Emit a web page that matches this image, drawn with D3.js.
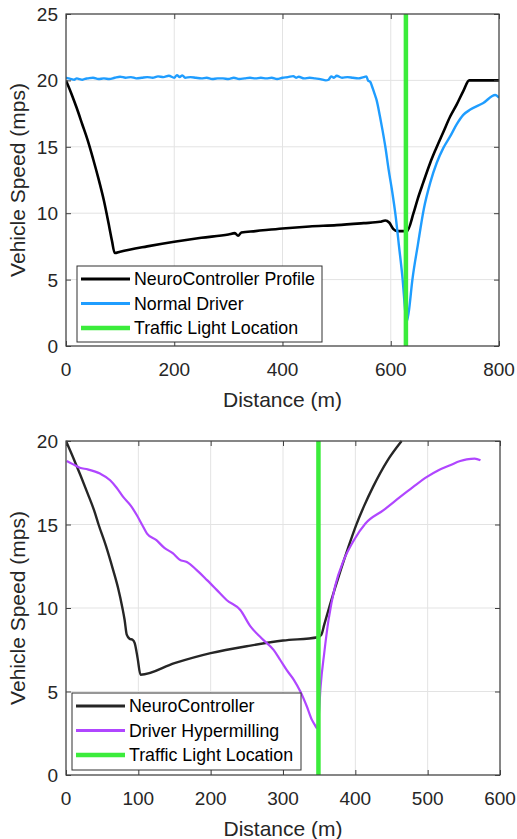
<!DOCTYPE html>
<html lang="en">
<head>
<meta charset="UTF-8">
<title>Vehicle Speed vs Distance</title>
<script src="https://d3js.org/d3.v7.min.js"></script>
<style>
    body { margin: 0; background: #fff; }
    svg { font-family: "Liberation Sans", Arial, sans-serif; }
    .grid line { stroke: #e3e3e3; stroke-width: 1; }
    .tick-lbl { font-size: 19px; fill: #262626; }
    .ax-lbl { font-size: 21px; fill: #262626; }
    .leg-txt { font-size: 17.8px; fill: #000; }
</style>
</head>
<body>
<svg width="517" height="839"></svg>
<script>
    // ---- top panel: NeuroController vs normal driver ----
    const topXTicks = [0, 200, 400, 600, 800];
    const topYTicks = [0, 5, 10, 15, 20, 25];
    const topLight = 628;

    const ncTopX = [0, 10, 20, 30, 40, 50, 60, 70, 80, 85, 90, 100, 150, 200, 250, 300, 312, 318, 324, 350, 400, 450, 500, 550, 580, 590, 597, 605, 612, 630, 642, 650, 660, 673, 683, 697, 710, 722, 734, 745, 800];
    const ncTopY = [20, 19, 17.9, 16.7, 15.5, 14.1, 12.6, 10.95, 8.95, 7.9, 7, 7.1, 7.5, 7.85, 8.15, 8.4, 8.5, 8.3, 8.55, 8.65, 8.85, 9.0, 9.1, 9.25, 9.35, 9.45, 9.3, 8.8, 8.65, 8.65, 10, 11.1, 12.3, 13.8, 14.8, 16.1, 17.3, 18.2, 19.2, 20, 20];

    const driverX = [0, 5, 10, 15, 20, 25, 30, 35, 40, 50, 60, 70, 80, 90, 100, 110, 120, 130, 140, 150, 160, 170, 180, 190, 200, 205, 210, 215, 220, 230, 240, 250, 260, 270, 280, 290, 300, 310, 320, 330, 340, 350, 360, 370, 380, 390, 400, 410, 420, 425, 430, 440, 450, 460, 470, 480, 485, 490, 495, 500, 510, 520, 530, 540, 550, 555, 558, 562, 565, 570, 574, 580, 585, 590, 596, 602, 609, 615, 622, 627, 629, 633, 640, 650, 661, 673, 685, 697, 710, 722, 734, 747, 771, 793, 800];
    const driverY = [20.2, 20.15, 20.1, 20.05, 20.15, 20.1, 20.05, 20.12, 20.15, 20.2, 20.1, 20.15, 20.1, 20.2, 20.28, 20.2, 20.25, 20.15, 20.2, 20.25, 20.2, 20.3, 20.25, 20.35, 20.2, 20.4, 20.25, 20.38, 20.2, 20.25, 20.2, 20.15, 20.2, 20.1, 20.15, 20.15, 20.1, 20.2, 20.1, 20.15, 20.2, 20.15, 20.2, 20.15, 20.2, 20.1, 20.2, 20.25, 20.32, 20.2, 20.28, 20.15, 20.2, 20.15, 20.1, 20.0, 20.05, 20.3, 20.2, 20.35, 20.2, 20.25, 20.2, 20.15, 20.25, 20.3, 20.0, 19.9, 19.6, 19.0, 18.5, 17.3, 16.2, 15.0, 13.3, 11.8, 9.8, 7.6, 5, 2.5, 1.8, 2.5, 5, 7.6, 10.3, 12.3, 13.8, 14.9, 15.8, 16.7, 17.4, 17.8, 18.3, 18.9, 18.7];

    // ---- bottom panel: NeuroController vs hypermilling driver ----
    const botXTicks = [0, 100, 200, 300, 400, 500, 600];
    const botYTicks = [0, 5, 10, 15, 20];
    const botLight = 349;

    const ncBotX = [0, 10, 20, 30, 40, 45, 55, 65, 72, 78, 81, 84, 88, 92, 95, 99, 103, 150, 200, 255, 300, 348, 353, 357, 361, 365, 372, 380, 390, 401, 412, 425, 444, 464];
    const ncBotY = [20, 19.0, 17.95, 16.85, 15.7, 15.0, 13.75, 12.3, 11.2, 10.0, 9.3, 8.4, 8.15, 8.1, 7.9, 7.0, 6.0, 6.7, 7.3, 7.75, 8.05, 8.25, 8.4, 9.0, 9.6, 10.2, 11.2, 12.3, 13.6, 14.95, 16.1, 17.3, 18.8, 20];

    const hyperX = [1, 10, 19, 30, 47, 61, 70, 79, 90, 98, 105, 112, 125, 136, 148, 157, 167, 180, 195, 208, 222, 241, 255, 270, 287, 296, 305, 315, 324, 333, 340, 344, 347, 349, 352, 357, 363, 372, 384, 398, 414, 439, 462, 480, 499, 515, 531, 545, 554, 565, 573];
    const hyperY = [18.8, 18.6, 18.4, 18.3, 18.05, 17.65, 17.2, 16.65, 16.1, 15.55, 15.0, 14.46, 14.06, 13.6, 13.27, 12.9, 12.75, 12.3, 11.67, 11.1, 10.48, 9.88, 8.9, 8.2, 7.49, 6.9, 6.29, 5.7, 5.0, 4.1, 3.3, 3.0, 2.8, 3.3, 5.3, 7.3, 9.3, 11.3, 12.87, 14.06, 15.06, 15.86, 16.65, 17.25, 17.85, 18.25, 18.55, 18.8, 18.9, 18.95, 18.85];

    const svg = d3.select("svg");
    const zip = (xs, ys) => xs.map((x, i) => [x, ys[i]]);

    function drawPanel(p) {
        const x = d3.scaleLinear().domain(p.xDomain).range([p.left, p.right]);
        const y = d3.scaleLinear().domain(p.yDomain).range([p.bottom, p.top]);
        const g = svg.append("g");

        // grid
        const grid = g.append("g").attr("class", "grid");
        grid.selectAll(".gx").data(p.xTicks).enter().append("line")
            .attr("x1", d => x(d)).attr("x2", d => x(d))
            .attr("y1", p.top).attr("y2", p.bottom);
        grid.selectAll(".gy").data(p.yTicks).enter().append("line")
            .attr("x1", p.left).attr("x2", p.right)
            .attr("y1", d => y(d)).attr("y2", d => y(d));

        const clipId = "clip" + p.id;
        svg.append("clipPath").attr("id", clipId).append("rect")
            .attr("x", p.left).attr("y", p.top - 2)
            .attr("width", p.right - p.left).attr("height", p.bottom - p.top + 2);

        const line = d3.line().curve(d3.curveMonotoneX).x(d => x(d[0])).y(d => y(d[1]));
        const plot = g.append("g").attr("clip-path", `url(#${clipId})`);
        p.series.forEach(s => {
            plot.append("path").datum(s.data)
                .attr("d", line)
                .attr("fill", "none")
                .attr("stroke", s.color)
                .attr("stroke-width", s.width)
                .attr("stroke-linejoin", "round");
        });
        // traffic light
        plot.append("line")
            .attr("x1", x(p.light)).attr("x2", x(p.light))
            .attr("y1", y(p.yDomain[0])).attr("y2", y(p.yDomain[1]))
            .attr("stroke", "#3bec3b").attr("stroke-width", 4.5);

        // axes (MATLAB box with inward ticks)
        const axisColor = "#404040";
        g.append("rect")
            .attr("x", p.left).attr("y", p.top)
            .attr("width", p.right - p.left).attr("height", p.bottom - p.top)
            .attr("fill", "none").attr("stroke", axisColor).attr("stroke-width", 1.2);

        g.append("g").attr("transform", `translate(0,${p.bottom})`)
            .call(d3.axisBottom(x).tickValues(p.xTicks).tickSizeInner(-5).tickSizeOuter(0).tickFormat(""))
            .call(a => a.select(".domain").remove())
            .selectAll("line").attr("stroke", axisColor);
        g.append("g").attr("transform", `translate(0,${p.top})`)
            .call(d3.axisTop(x).tickValues(p.xTicks).tickSizeInner(-5).tickSizeOuter(0).tickFormat(""))
            .call(a => a.select(".domain").remove())
            .selectAll("line").attr("stroke", axisColor);
        g.append("g").attr("transform", `translate(${p.left},0)`)
            .call(d3.axisLeft(y).tickValues(p.yTicks).tickSizeInner(-5).tickSizeOuter(0).tickFormat(""))
            .call(a => a.select(".domain").remove())
            .selectAll("line").attr("stroke", axisColor);
        g.append("g").attr("transform", `translate(${p.right},0)`)
            .call(d3.axisRight(y).tickValues(p.yTicks).tickSizeInner(-5).tickSizeOuter(0).tickFormat(""))
            .call(a => a.select(".domain").remove())
            .selectAll("line").attr("stroke", axisColor);

        // tick labels
        g.selectAll(".xl").data(p.xTicks).enter().append("text")
            .attr("class", "tick-lbl")
            .attr("x", d => x(d)).attr("y", p.bottom + 30)
            .attr("text-anchor", "middle").text(d => d);
        g.selectAll(".yl").data(p.yTicks).enter().append("text")
            .attr("class", "tick-lbl")
            .attr("x", p.left - 8).attr("y", d => y(d) + 7)
            .attr("text-anchor", "end").text(d => d);

        // axis titles
        g.append("text").attr("class", "ax-lbl")
            .attr("x", (p.left + p.right) / 2).attr("y", p.bottom + 61)
            .attr("text-anchor", "middle").text("Distance (m)");
        g.append("text").attr("class", "ax-lbl")
            .attr("transform", `translate(25,${(p.top + p.bottom) / 2}) rotate(-90)`)
            .attr("text-anchor", "middle").text("Vehicle Speed (mps)");

        // legend
        const L = p.legend;
        const lg = g.append("g");
        lg.append("rect")
            .attr("x", L.x).attr("y", L.y).attr("width", L.w).attr("height", L.h)
            .attr("fill", "#fff").attr("stroke", "#303030").attr("stroke-width", 1);
        const items = p.series.map(s => ({ name: s.name, color: s.color, width: s.width }))
            .concat([{ name: "Traffic Light Location", color: "#3bec3b", width: 4.5 }]);
        items.forEach((it, i) => {
            const cy = L.y + 13 + i * 24.5;
            lg.append("line")
                .attr("x1", L.x + 4).attr("x2", L.x + 53)
                .attr("y1", cy).attr("y2", cy)
                .attr("stroke", it.color).attr("stroke-width", Math.max(it.width, 3));
            lg.append("text").attr("class", "leg-txt")
                .attr("x", L.x + 57).attr("y", cy + 6).text(it.name);
        });
    }

    drawPanel({
        id: "top",
        left: 66, right: 499, top: 14, bottom: 346,
        xDomain: [0, 800], yDomain: [0, 25],
        xTicks: topXTicks, yTicks: topYTicks, light: topLight,
        series: [
            { name: "NeuroController Profile", color: "#000000", width: 2.6, data: zip(ncTopX, ncTopY) },
            { name: "Normal Driver", color: "#1f9dff", width: 2.4, data: zip(driverX, driverY) }
        ],
        legend: { x: 77, y: 266, w: 245, h: 76 }
    });

    drawPanel({
        id: "bot",
        left: 66, right: 500, top: 441, bottom: 775,
        xDomain: [0, 600], yDomain: [0, 20],
        xTicks: botXTicks, yTicks: botYTicks, light: botLight,
        series: [
            { name: "NeuroController", color: "#262626", width: 2.4, data: zip(ncBotX, ncBotY) },
            { name: "Driver Hypermilling", color: "#b046ff", width: 2.2, data: zip(hyperX, hyperY) }
        ],
        legend: { x: 72, y: 693, w: 229, h: 77 }
    });
</script>
</body>
</html>
